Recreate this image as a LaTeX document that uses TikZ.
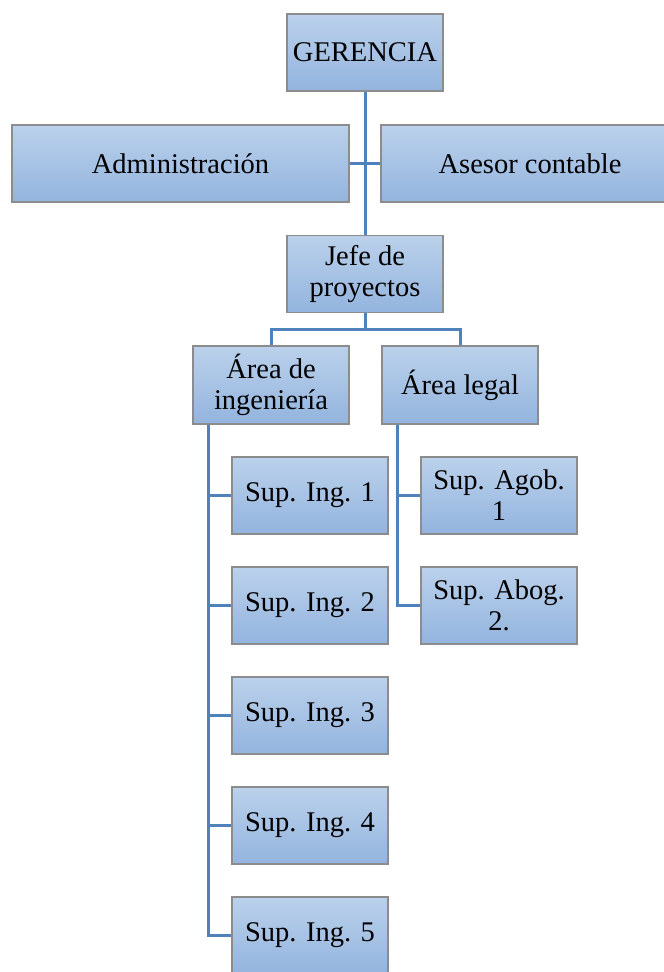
\documentclass[tikz,border=0pt]{standalone}
\usepackage{fontspec}
\setmainfont{Liberation Serif}
\usetikzlibrary{calc}
\definecolor{boxtop}{HTML}{BBD1EB}
\definecolor{boxbot}{HTML}{93B4DE}
\definecolor{boxline}{HTML}{8C8C8C}
\definecolor{linkblue}{HTML}{4F81BD}
\tikzset{
  unit/.style={draw=boxline, line width=1.4pt, top color=boxtop, bottom color=boxbot,
    minimum width=156pt, minimum height=77pt, inner sep=0pt, align=center,
    font=\fontsize{28.5}{31}\selectfont},
  link/.style={draw=linkblue, line width=3pt}
}
\begin{document}
\begin{tikzpicture}[x=1pt, y=-1pt]
\useasboundingbox (0,0) rectangle (664,972);
\clip (0,0) rectangle (664,972);
\fill[white] (0,0) rectangle (664,972);

% top level and staff units
\node[unit] (ger) at (365,52.5) {GERENCIA};
\node[unit, minimum width=337pt] (adm) at (180.5,163.5) {Administración};
\node[unit, minimum width=298pt] (ase) at (530,163.5) {Asesor contable};
\node[unit] (jefe) at (365,274) {Jefe de\\proyectos};

% areas
\node[unit, minimum height=78pt] (ing) at (271,385) {Área de\\ingeniería};
\node[unit, minimum height=78pt] (leg) at (460,385) {Área legal};

% engineering supervisors
\node[unit] (s1) at (310,495.5) {Sup. Ing. 1};
\node[unit] (s2) at (310,605.5) {Sup. Ing. 2};
\node[unit] (s3) at (310,715.5) {Sup. Ing. 3};
\node[unit] (s4) at (310,825.5) {Sup. Ing. 4};
\node[unit] (s5) at (310,935.5) {Sup. Ing. 5};

% legal supervisors
\node[unit] (a1) at (499,495.5) {Sup. Agob.\\1};
\node[unit] (a2) at (499,605.5) {Sup. Abog.\\2.};

% trunk line and staff branch
\draw[link] (ger.south) -- (jefe.north);
\draw[link] (adm.east) -- (ase.west);

% split to the areas
\draw[link] (jefe.south) -- ++(0,16) coordinate (split) -| (ing.north);
\draw[link] (split) -| (leg.north);

% engineering branch
\coordinate (ingbus) at ($(ing.south west)+(16,0)$);
\foreach \s in {s1,s2,s3,s4,s5}
  \draw[link] (ingbus) |- (\s.west);

% legal branch
\coordinate (legbus) at ($(leg.south west)+(16,0)$);
\foreach \s in {a1,a2}
  \draw[link] (legbus) |- (\s.west);
\end{tikzpicture}
\end{document}
